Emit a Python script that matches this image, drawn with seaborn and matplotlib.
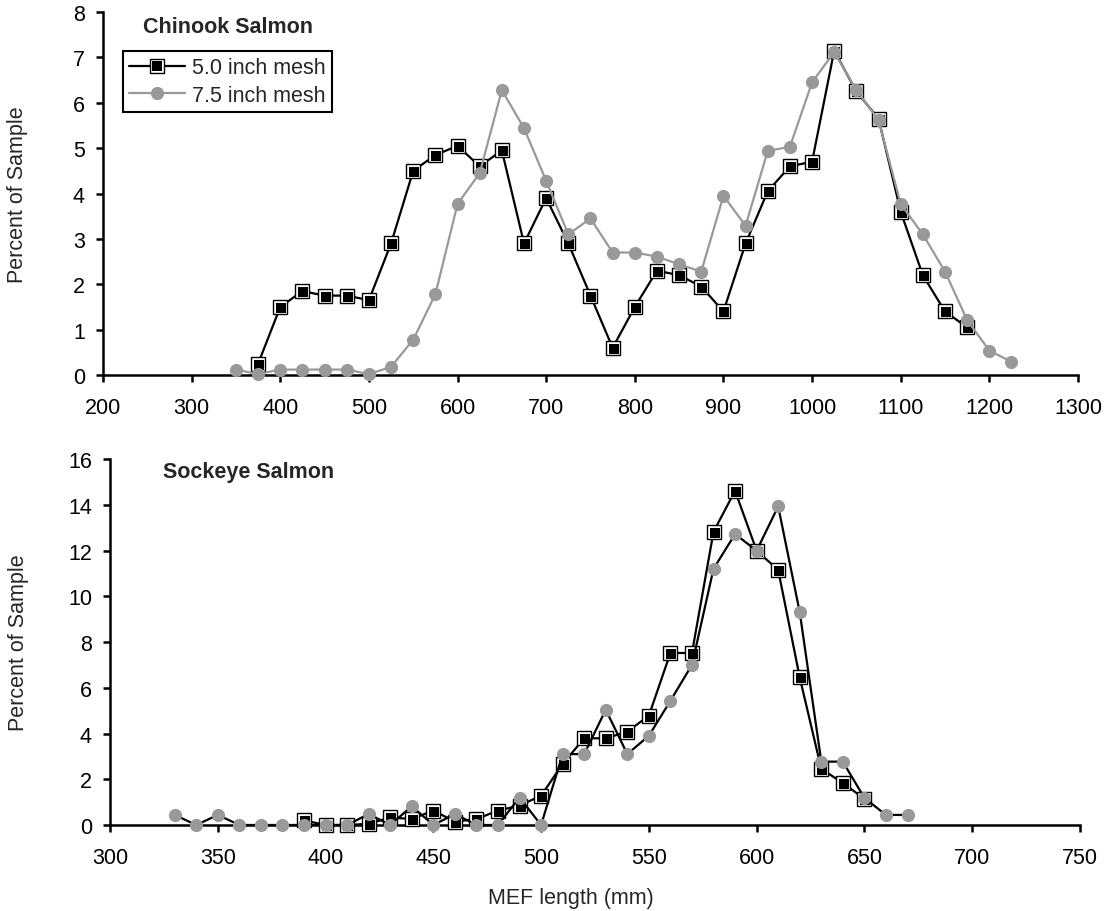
import matplotlib
matplotlib.use("Agg")
import matplotlib.pyplot as plt
import matplotlib.transforms as mtransforms
from matplotlib.legend_handler import HandlerTuple
import seaborn as sns

# Chinook salmon length-frequency (percent of sample) by mesh size
chinook_len_5 = [375, 400, 425, 450, 475, 500, 525, 550, 575, 600, 625, 650, 675,
                 700, 725, 750, 775, 800, 825, 850, 875, 900, 925, 950, 975, 1000,
                 1025, 1050, 1075, 1100, 1125, 1150, 1175]
chinook_pct_5 = [0.25, 1.5, 1.85, 1.75, 1.75, 1.65, 2.9, 4.5, 4.85, 5.05, 4.6, 4.95, 2.9,
                 3.9, 2.9, 1.75, 0.6, 1.5, 2.3, 2.2, 1.95, 1.4, 2.9, 4.05, 4.6, 4.7,
                 7.15, 6.25, 5.65, 3.6, 2.2, 1.4, 1.05]

chinook_len_75 = [350, 375, 400, 425, 450, 475, 500, 525, 550, 575, 600, 625, 650, 675,
                  700, 725, 750, 775, 800, 825, 850, 875, 900, 925, 950, 975, 1000,
                  1025, 1050, 1075, 1100, 1125, 1150, 1175, 1200, 1225]
chinook_pct_75 = [0.12, 0.02, 0.12, 0.12, 0.12, 0.12, 0.02, 0.18, 0.78, 1.78, 3.77, 4.45,
                  6.28, 5.44, 4.28, 3.1, 3.45, 2.7, 2.7, 2.61, 2.44, 2.28, 3.95, 3.29,
                  4.94, 5.03, 6.45, 7.12, 6.28, 5.62, 3.77, 3.1, 2.28, 1.21, 0.54, 0.29]

# Sockeye salmon length-frequency (percent of sample) by mesh size
sockeye_len_5 = [390, 400, 410, 420, 430, 440, 450, 460, 470, 480, 490, 500, 510, 520,
                 530, 540, 550, 560, 570, 580, 590, 600, 610, 620, 630, 640, 650]
sockeye_pct_5 = [0.2, 0.0, 0.0, 0.05, 0.33, 0.26, 0.63, 0.15, 0.26, 0.63, 0.85, 1.28,
                 2.67, 3.79, 3.79, 4.08, 4.78, 7.52, 7.52, 12.82, 14.61, 11.99, 11.15,
                 6.45, 2.45, 1.84, 1.14]

sockeye_len_75 = [330, 340, 350, 360, 370, 380, 390, 400, 410, 420, 430, 440, 450, 460,
                  470, 480, 490, 500, 510, 520, 530, 540, 550, 560, 570, 580, 590, 600,
                  610, 620, 630, 640, 650, 660, 670]
sockeye_pct_75 = [0.44, 0.0, 0.44, 0.0, 0.0, 0.0, 0.0, 0.0, 0.0, 0.48, 0.0, 0.82, 0.0,
                  0.48, 0.0, 0.0, 1.2, 0.0, 3.1, 3.1, 5.04, 3.1, 3.9, 5.43, 7.0, 11.2,
                  12.72, 11.99, 13.93, 9.3, 2.77, 2.77, 1.18, 0.44, 0.44]

series_labels = ["5.0 inch mesh", "7.5 inch mesh"]
chinook_xticks = [200, 300, 400, 500, 600, 700, 800, 900, 1000, 1100, 1200, 1300]
chinook_yticks = [0, 1, 2, 3, 4, 5, 6, 7, 8]
sockeye_xticks = [300, 350, 400, 450, 500, 550, 600, 650, 700, 750]
sockeye_yticks = [0, 2, 4, 6, 8, 10, 12, 14, 16]

sns.set_style("ticks")
plt.rcParams["font.family"] = ["Liberation Sans", "DejaVu Sans"]

GRAY = "#999999"
FS = 15.5

fig = plt.figure(figsize=(11.09, 9.12), dpi=100)
ax1 = fig.add_axes([0.0929, 0.5877, 0.8791, 0.3980])
ax2 = fig.add_axes([0.0992, 0.0943, 0.8746, 0.4013])


def square_series(ax, x, y):
    # outlined square with an offset solid core
    sns.lineplot(x=x, y=y, ax=ax, estimator=None, sort=False, color="black", lw=1.6,
                 marker="s", ms=10, mfc="white", mec="black", mew=1.0,
                 clip_on=False, zorder=3)
    core = mtransforms.offset_copy(ax.transData, fig=fig, x=1.0, y=-1.0, units="dots")
    sns.lineplot(x=x, y=y, ax=ax, estimator=None, sort=False, color="black", lw=0,
                 marker="s", ms=6.6, mfc="black", mec="black", mew=0,
                 clip_on=False, zorder=3.1, transform=core)


def circle_series(ax, x, y, line_color):
    sns.lineplot(x=x, y=y, ax=ax, estimator=None, sort=False, color=line_color, lw=1.6,
                 marker="o", ms=9.5, mfc=GRAY, mec=GRAY, mew=0,
                 clip_on=False, zorder=4)


square_series(ax1, chinook_len_5, chinook_pct_5)
circle_series(ax1, chinook_len_75, chinook_pct_75, GRAY)
square_series(ax2, sockeye_len_5, sockeye_pct_5)
circle_series(ax2, sockeye_len_75, sockeye_pct_75, "black")

for ax, xt, yt in [(ax1, chinook_xticks, chinook_yticks), (ax2, sockeye_xticks, sockeye_yticks)]:
    ax.set_xlim(xt[0], xt[-1])
    ax.set_ylim(yt[0], yt[-1])
    ax.set_xticks(xt)
    ax.set_yticks(yt)
    sns.despine(ax=ax)
    for s in ("left", "bottom"):
        ax.spines[s].set_linewidth(1.8)
        ax.spines[s].set_color("black")
    ax.tick_params(direction="out", length=5, width=1.8, color="black",
                   labelsize=FS, labelcolor="black")
    ax.tick_params(axis="x", pad=11)
    ax.tick_params(axis="y", pad=8)
    ax.set_xlabel("")
    ax.set_ylabel("Percent of Sample", fontsize=FS)
    ax.grid(False)

ax1.yaxis.set_label_coords(-0.077, 0.5)
ax2.yaxis.set_label_coords(-0.084, 0.5)
ax2.set_xlabel("MEF length (mm)", fontsize=FS)
ax2.xaxis.set_label_coords(0.475, -0.170)

ax1.text(0.041, 0.961, "Chinook Salmon", transform=ax1.transAxes, fontsize=FS,
         fontweight="bold", ha="left", va="center")
ax2.text(0.0546, 0.967, "Sockeye Salmon", transform=ax2.transAxes, fontsize=FS,
         fontweight="bold", ha="left", va="center")

lines = ax1.get_lines()
handles = [(lines[0], lines[1]), lines[2]]
leg = ax1.legend(handles=handles, labels=series_labels, loc="upper left",
                 bbox_to_anchor=(0.0205, 0.8926), borderaxespad=0, fontsize=FS,
                 frameon=True, fancybox=False, edgecolor="black", framealpha=1,
                 handlelength=2.6, handletextpad=0.3, borderpad=0.3, labelspacing=0.3,
                 handler_map={tuple: HandlerTuple(ndivide=1, pad=0)})
leg.get_frame().set_linewidth(1.5)

fig.savefig("out.png", dpi=100)
